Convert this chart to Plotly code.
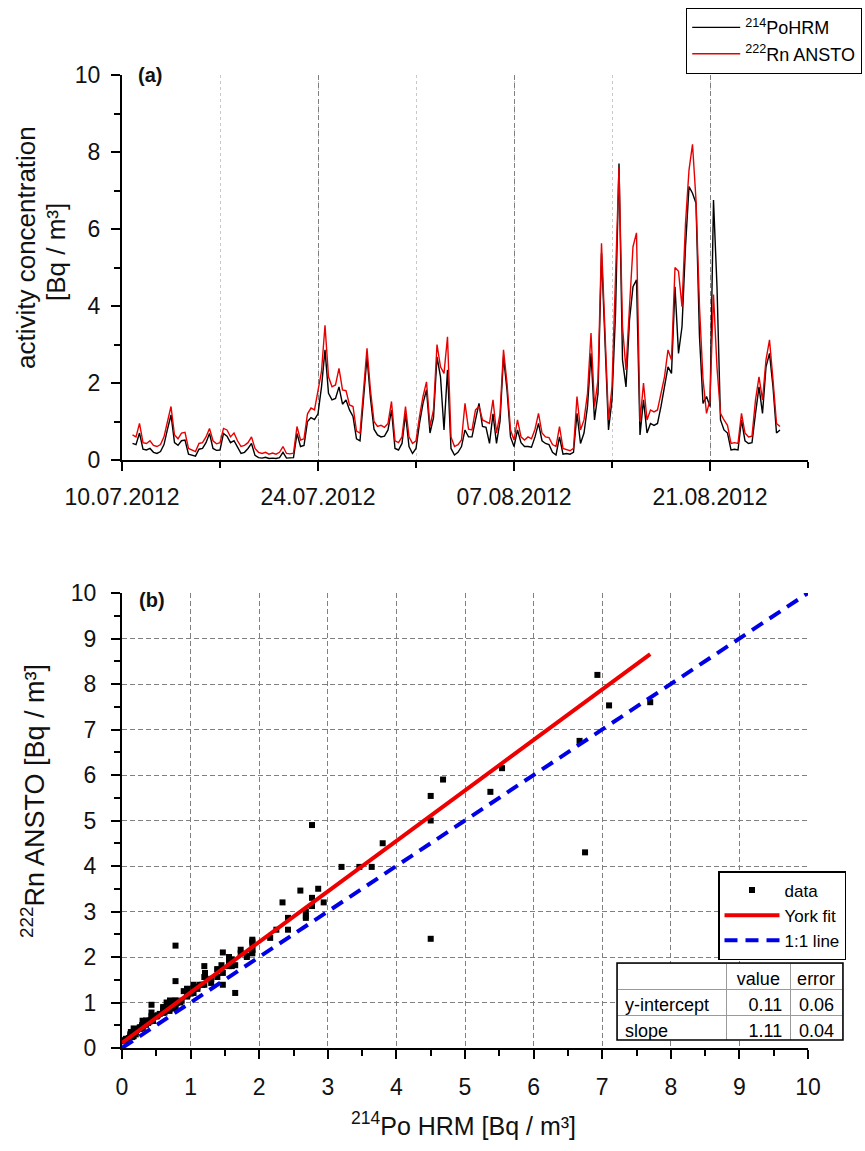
import pandas as pd
import plotly.graph_objects as go

# ---------------- data ----------------
# 6-hourly values starting 10.07.2012 18:00 (one row = one day, 4 values)
po_hrm = [
    0.43,
    0.40, 0.70, 0.28, 0.26,
    0.30, 0.20, 0.17, 0.22,
    0.40, 0.80, 1.17, 0.45,
    0.38, 0.50, 0.52, 0.15,
    0.12, 0.10, 0.28, 0.30,
    0.45, 0.69, 0.30, 0.25,
    0.26, 0.69, 0.62, 0.45,
    0.50, 0.32, 0.17, 0.20,
    0.30, 0.43, 0.12, 0.06,
    0.05, 0.07, 0.04, 0.05,
    0.04, 0.06, 0.20, 0.05,
    0.05, 0.06, 0.69, 0.35,
    0.38, 1.00, 1.10, 1.05,
    1.20, 1.90, 2.86, 1.73,
    1.56, 1.60, 1.90, 1.45,
    1.56, 1.30, 1.13, 0.55,
    0.50, 1.65, 2.68, 1.60,
    0.80, 0.65, 0.60, 0.62,
    0.78, 1.30, 0.30, 0.26,
    0.43, 1.20, 0.35, 0.17,
    0.30, 0.95, 1.47, 1.82,
    0.70, 1.10, 2.68, 2.16,
    0.78, 2.34, 0.30, 0.13,
    0.20, 0.35, 0.78, 0.60,
    0.60, 1.04, 1.47, 0.87,
    0.85, 0.43, 1.20, 0.43,
    1.00, 2.68, 1.82, 0.60,
    0.35, 0.78, 0.45, 0.35,
    0.35, 0.33, 0.60, 0.95,
    0.50, 0.43, 0.40, 0.20,
    0.13, 0.60, 0.15, 0.17,
    0.15, 0.20, 1.21, 0.43,
    0.70, 1.39, 2.77, 1.04,
    1.73, 5.37, 2.94, 0.78,
    1.56, 3.80, 7.70, 2.60,
    1.90, 3.64, 4.50, 4.68,
    0.65, 1.56, 0.70, 0.95,
    0.90, 0.95, 1.39, 1.90,
    2.42, 2.25, 4.50, 2.77,
    3.46, 5.54, 7.10, 6.93,
    6.67, 3.20, 1.47, 1.65,
    1.39, 6.75, 4.50, 1.04,
    0.78, 0.70, 0.26, 0.28,
    0.26, 1.04, 0.50, 0.43,
    0.45, 1.21, 1.90, 1.21,
    2.42, 2.77, 1.90, 0.70,
    0.78,
]
rn_ansto = [
    0.65,
    0.60, 0.95, 0.45, 0.43,
    0.50, 0.38, 0.35, 0.40,
    0.60, 1.00, 1.39, 0.65,
    0.55, 0.70, 0.72, 0.30,
    0.25, 0.22, 0.43, 0.45,
    0.60, 0.82, 0.50, 0.42,
    0.45, 0.82, 0.78, 0.60,
    0.70, 0.50, 0.35, 0.38,
    0.45, 0.60, 0.30, 0.20,
    0.17, 0.20, 0.15, 0.18,
    0.15, 0.20, 0.35, 0.17,
    0.16, 0.18, 0.87, 0.52,
    0.55, 1.20, 1.35, 1.30,
    1.80, 2.30, 3.50, 2.16,
    1.90, 1.95, 2.38, 1.82,
    1.80, 1.43, 1.39, 0.75,
    0.70, 1.82, 2.90, 1.80,
    1.00, 0.87, 0.90, 0.85,
    0.95, 1.52, 0.50, 0.45,
    0.60, 1.39, 0.60, 0.43,
    0.50, 1.13, 1.65, 2.03,
    0.87, 1.30, 3.00, 2.42,
    2.25, 3.20, 0.60, 0.35,
    0.40, 0.52, 1.47, 0.80,
    0.78, 1.30, 1.39, 1.04,
    1.00, 0.95, 1.56, 0.70,
    1.20, 2.86, 2.00, 0.78,
    0.52, 1.04, 0.60, 0.52,
    0.60, 0.55, 0.80, 1.21,
    0.70, 0.60, 0.58, 0.40,
    0.35, 0.87, 0.30, 0.26,
    0.24, 0.30, 1.65, 0.78,
    1.04, 1.73, 3.30, 1.39,
    2.08, 5.63, 3.20, 1.04,
    1.90, 4.50, 7.60, 3.46,
    2.34, 3.98, 5.54, 5.90,
    1.00, 2.00, 1.04, 1.30,
    1.25, 1.30, 1.73, 2.16,
    2.86, 2.60, 5.00, 4.90,
    3.98, 6.15, 7.53, 8.20,
    6.75, 3.98, 2.10, 1.21,
    1.56, 4.30, 2.40, 1.21,
    1.04, 0.90, 0.43, 0.45,
    0.43, 1.21, 0.70, 0.60,
    0.62, 1.56, 2.16, 1.56,
    2.60, 3.12, 2.08, 0.95,
    0.87,
]
series_start = "2012-07-10 18:00"
date_ticks = ["2012-07-10", "2012-07-24", "2012-08-07", "2012-08-21"]
date_range = ["2012-07-10", "2012-08-28"]

fit_intercept = 0.11
fit_slope = 1.11
fit_x = [0.0, 7.7]
one_to_one = [0.0, 10.0]

table_params = ["y-intercept", "slope"]
table_values = ["0.11", "1.11"]
table_errors = ["0.06", "0.04"]

# ---------------- figure ----------------
W, H = 865, 1151
FONT = "Liberation Sans, Arial, sans-serif"


def px(x):
    return x / W


def py(y):
    return 1 - y / H


times = pd.date_range(series_start, periods=len(po_hrm), freq="6h")
fit_y = [fit_intercept + fit_slope * v for v in fit_x]

fig = go.Figure()
fig.add_trace(go.Scatter(
    x=times, y=po_hrm, mode="lines", name="<sup>214</sup>PoHRM",
    line=dict(color="black", width=1.4),
    xaxis="x", yaxis="y", legend="legend2"))
fig.add_trace(go.Scatter(
    x=times, y=rn_ansto, mode="lines", name="<sup>222</sup>Rn ANSTO",
    line=dict(color="#e80000", width=1.4),
    xaxis="x", yaxis="y", legend="legend2"))

fig.add_trace(go.Scatter(
    x=po_hrm, y=rn_ansto, mode="markers", name="data",
    marker=dict(symbol="square", size=6, color="black"),
    xaxis="x2", yaxis="y2", legendrank=1))
fig.add_trace(go.Scatter(
    x=one_to_one, y=one_to_one, mode="lines", name="1:1 line",
    line=dict(color="#0000e6", width=4, dash="13px,8px"),
    xaxis="x2", yaxis="y2", legendrank=3))
fig.add_trace(go.Scatter(
    x=fit_x, y=fit_y, mode="lines", name="York fit",
    line=dict(color="#ee0000", width=4),
    xaxis="x2", yaxis="y2", legendrank=2))

fig.add_trace(go.Table(
    domain=dict(x=[px(617), px(843)], y=[py(1040), py(963)]),
    columnwidth=[110, 64, 52],
    header=dict(values=["", "value", "error"], align=["left", "center", "center"],
                font=dict(family=FONT, size=18, color="black"), height=26,
                fill_color="white", line=dict(color="#9a9a9a", width=1)),
    cells=dict(values=[table_params, table_values, table_errors],
               align=["left", "right", "right"],
               font=dict(family=FONT, size=18, color="black"), height=26,
               fill_color="white", line=dict(color="#9a9a9a", width=1)),
))

tickfont = dict(family=FONT, size=23, color="#111")
axis_common = dict(showline=True, linewidth=2, linecolor="black", ticks="outside",
                   tickwidth=2, tickcolor="black", tickfont=tickfont, zeroline=False,
                   mirror=False, automargin=False)

fig.update_layout(
    width=W, height=H, autosize=False,
    margin=dict(l=0, r=0, t=0, b=0, pad=0),
    paper_bgcolor="white", plot_bgcolor="white",
    font=dict(family=FONT, color="#111"),
    xaxis=dict(domain=[px(122), px(808)], anchor="y", type="date", range=date_range,
               tickmode="array", tickvals=date_ticks, tickformat="%d.%m.%Y",
               ticklen=9, showgrid=True, gridcolor="#808080", gridwidth=1, griddash="5px,3px",
               minor=dict(dtick=7 * 86400000, tick0="2012-07-10", ticks="outside", ticklen=6,
                          tickwidth=2, tickcolor="black", showgrid=True,
                          gridcolor="#c8c8c8", gridwidth=1, griddash="dot"),
               ticklabelstandoff=6, **axis_common),
    yaxis=dict(domain=[py(460), py(75)], anchor="x", range=[0, 10], dtick=2, tick0=0,
               ticklen=9, showgrid=False,
               minor=dict(dtick=1, ticks="outside", ticklen=6, tickwidth=2, tickcolor="black"),
               ticklabelstandoff=6, **axis_common),
    xaxis2=dict(domain=[px(122), px(808)], anchor="y2", range=[0, 10], dtick=1, tick0=0,
                ticklen=9, showgrid=True, gridcolor="#808080", gridwidth=1, griddash="5px,3px",
                minor=dict(dtick=0.5, ticks="outside", ticklen=6, tickwidth=2, tickcolor="black"),
                ticklabelstandoff=8, **axis_common),
    yaxis2=dict(domain=[py(1048), py(593)], anchor="x2", range=[0, 10], dtick=1, tick0=0,
                ticklen=9, showgrid=True, gridcolor="#808080", gridwidth=1, griddash="5px,3px",
                minor=dict(dtick=0.5, ticks="outside", ticklen=6, tickwidth=2, tickcolor="black"),
                ticklabelstandoff=10, **axis_common),
    legend=dict(x=px(846), xanchor="right", y=py(960), yanchor="bottom", bgcolor="white",
                bordercolor="black", borderwidth=1.5, itemwidth=55, tracegroupgap=0,
                font=dict(family=FONT, size=17, color="black")),
    legend2=dict(x=px(862), xanchor="right", y=py(8), yanchor="top", bgcolor="white",
                 bordercolor="black", borderwidth=1.2, itemwidth=48, tracegroupgap=0,
                 font=dict(family=FONT, size=18, color="black")),
    showlegend=True,
)

fig.add_shape(type="rect", xref="paper", yref="paper", x0=px(617), x1=px(843),
              y0=py(1040), y1=py(963), line=dict(color="black", width=1.5), layer="above")

ann = [
    dict(text="<b>(a)</b>", x=px(150), y=py(75), font=dict(size=20)),
    dict(text="<b>(b)</b>", x=px(152), y=py(600), font=dict(size=20)),
    dict(text="activity concentration", x=px(26), y=py(248), textangle=-90,
         font=dict(size=26)),
    dict(text="[Bq / m³]", x=px(56), y=py(252), textangle=-90, font=dict(size=26)),
    dict(text="<sup>222</sup>Rn ANSTO [Bq / m³]", x=px(33), y=py(801), textangle=-90,
         font=dict(size=27)),
    dict(text="<sup>214</sup>Po HRM [Bq / m³]", x=px(464), y=py(1124), font=dict(size=25)),
]
for a in ann:
    f = dict(family=FONT, color="#111")
    f.update(a.pop("font"))
    fig.add_annotation(xref="paper", yref="paper", showarrow=False, font=f,
                       xanchor="center", yanchor="middle", **a)

fig.write_html("out.html")
